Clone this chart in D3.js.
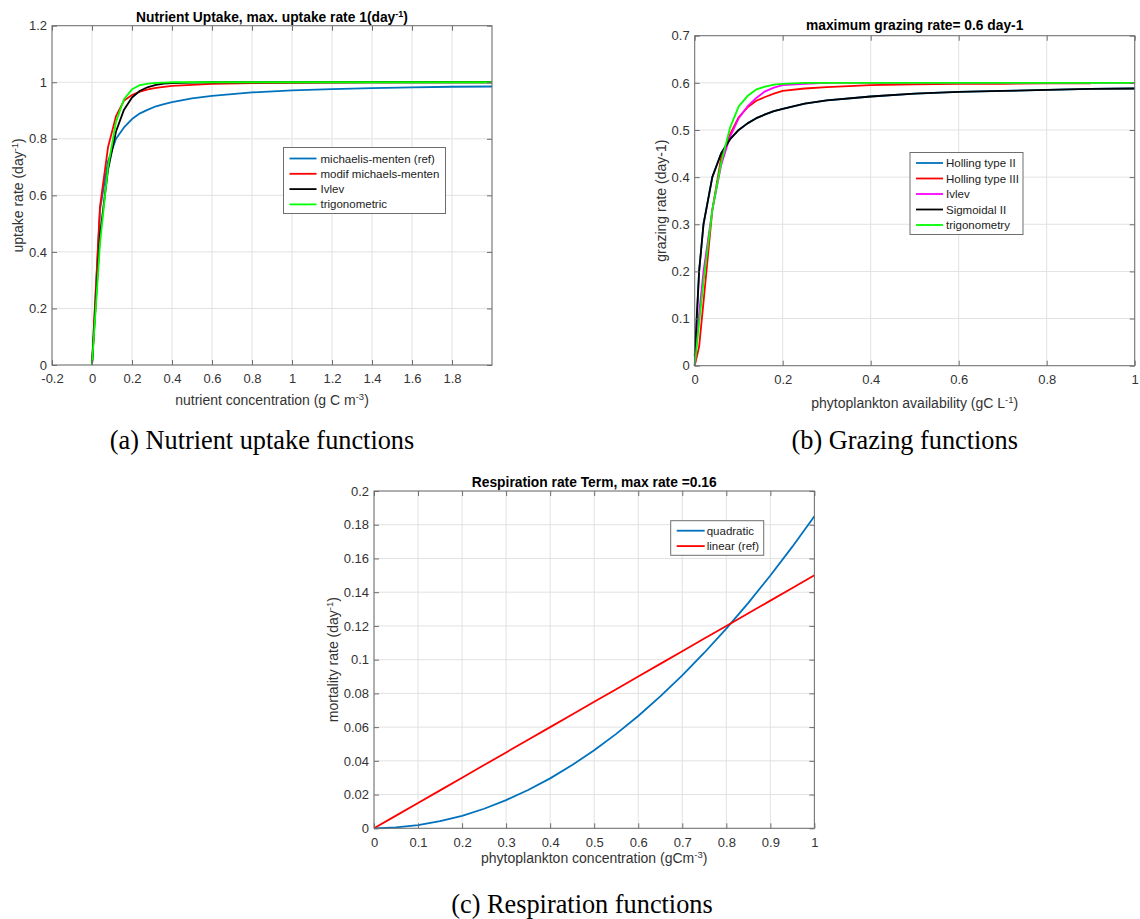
<!DOCTYPE html>
<html>
<head>
<meta charset="utf-8">
<script src="https://cdn.jsdelivr.net/npm/d3@7"></script>
<style>
  html, body { margin: 0; padding: 0; background: #fff; }
  svg { display: block; }
</style>
</head>
<body>
<svg id="chart" width="1140" height="919"></svg>
<script>
// ---------------- DATA ----------------
// (a) Nutrient uptake
const uptakeX = [0, 0.04, 0.08, 0.12, 0.16, 0.20, 0.24, 0.28, 0.32, 0.36, 0.40, 0.50, 0.60, 0.80, 1.00, 1.20, 1.40, 1.60, 1.80, 2.00];
const uptakeMM    = [0, 0.55, 0.72, 0.80, 0.84, 0.87, 0.89, 0.903, 0.915, 0.923, 0.93, 0.943, 0.952, 0.964, 0.971, 0.976, 0.979, 0.982, 0.984, 0.985];
const uptakeModMM = [0, 0.56, 0.77, 0.88, 0.935, 0.955, 0.967, 0.975, 0.98, 0.984, 0.987, 0.991, 0.994, 0.997, 0.998, 0.999, 1, 1, 1, 1];
const uptakeIvlev = [0, 0.46, 0.69, 0.826, 0.903, 0.946, 0.97, 0.983, 0.991, 0.995, 0.997, 0.999, 1, 1, 1, 1, 1, 1, 1, 1];
const uptakeTrig  = [0, 0.43, 0.70, 0.86, 0.94, 0.975, 0.99, 0.995, 0.998, 0.999, 1, 1, 1, 1, 1, 1, 1, 1, 1, 1];
const uptakeNames = ["michaelis-menten (ref)", "modif michaels-menten", "Ivlev", "trigonometric"];
const uptakeXTicks = [-0.2, 0, 0.2, 0.4, 0.6, 0.8, 1, 1.2, 1.4, 1.6, 1.8];
const uptakeYTicks = [0, 0.2, 0.4, 0.6, 0.8, 1, 1.2];

// (b) Grazing
const grazeX = [0, 0.01, 0.02, 0.04, 0.06, 0.08, 0.10, 0.12, 0.14, 0.16, 0.18, 0.20, 0.25, 0.30, 0.40, 0.50, 0.60, 0.70, 0.80, 0.90, 1.00];
const grazeHoll2  = [0, 0.20, 0.30, 0.40, 0.45, 0.48, 0.50, 0.514, 0.525, 0.533, 0.54, 0.545, 0.556, 0.563, 0.571, 0.577, 0.581, 0.583, 0.585, 0.587, 0.588];
const grazeHoll3  = [0, 0.04, 0.135, 0.33, 0.44, 0.49, 0.527, 0.548, 0.562, 0.57, 0.577, 0.583, 0.588, 0.591, 0.595, 0.597, 0.598, 0.598, 0.599, 0.599, null];
const grazeIvlev  = [0, 0.11, 0.20, 0.33, 0.425, 0.485, 0.525, 0.55, 0.568, 0.582, 0.59, 0.595, 0.598, 0.6, 0.6, 0.6, 0.6, 0.6, 0.6, 0.6, 0.6];
const grazeSigm2  = [0.02, 0.20, 0.30, 0.40, 0.45, 0.48, 0.50, 0.514, 0.525, 0.533, 0.54, 0.545, 0.556, 0.563, 0.571, 0.577, 0.581, 0.583, 0.585, 0.587, 0.588];
const grazeTrig   = [0, 0.09, 0.178, 0.33, 0.43, 0.504, 0.55, 0.572, 0.586, 0.592, 0.596, 0.598, 0.6, 0.6, 0.6, 0.6, 0.6, 0.6, 0.6, 0.6, 0.6];
const grazeNames = ["Holling type II", "Holling type III", "Ivlev", "Sigmoidal II", "trigonometry"];
const grazeXTicks = [0, 0.2, 0.4, 0.6, 0.8, 1];
const grazeYTicks = [0, 0.1, 0.2, 0.3, 0.4, 0.5, 0.6, 0.7];

// (c) Respiration
const respX = [0, 0.05, 0.10, 0.15, 0.20, 0.25, 0.30, 0.35, 0.40, 0.45, 0.50, 0.55, 0.60, 0.65, 0.70, 0.75, 0.80, 0.85, 0.90, 0.95, 1.00];
const respQuad   = [0, 0.0005, 0.0019, 0.0042, 0.0074, 0.0116, 0.0167, 0.0227, 0.0296, 0.0375, 0.0463, 0.0560, 0.0666, 0.0782, 0.0907, 0.1041, 0.1184, 0.1337, 0.1499, 0.1670, 0.1850];
const respLinear = [0, 0.0075, 0.015, 0.0225, 0.03, 0.0375, 0.045, 0.0525, 0.06, 0.0675, 0.075, 0.0825, 0.09, 0.0975, 0.105, 0.1125, 0.12, 0.1275, 0.135, 0.1425, 0.15];
const respNames = ["quadratic", "linear (ref)"];
const respXTicks = [0, 0.1, 0.2, 0.3, 0.4, 0.5, 0.6, 0.7, 0.8, 0.9, 1];
const respYTicks = [0, 0.02, 0.04, 0.06, 0.08, 0.1, 0.12, 0.14, 0.16, 0.18, 0.2];

// ---------------- DRAWING ----------------
const C_BLUE = "#0072BD", C_RED = "#FF0000", C_BLACK = "#000000", C_GREEN = "#00FF00", C_MAG = "#FF00FF";
const SANS = "'Liberation Sans', Arial, sans-serif";
const SERIF = "'Liberation Serif', 'Times New Roman', serif";
const svg = d3.select("#chart");
const fmt = d => String(+d.toFixed(4));

function richText(sel, parts, supSize) {
  parts.forEach(([t, sup]) => {
    const ts = sel.append("tspan").text(t);
    if (sup) ts.attr("baseline-shift", "super").style("font-size", supSize + "px");
  });
}

function panel(o) {
  const g = svg.append("g").attr("transform", `translate(${o.left},${o.top})`);
  const x = d3.scaleLinear().domain(o.xDomain).range([0, o.width]);
  const y = d3.scaleLinear().domain(o.yDomain).range([o.height, 0]);

  // grid
  g.append("g").selectAll("line").data(o.xTicks.concat([o.xDomain[1]])).join("line")
    .attr("x1", d => x(d)).attr("x2", d => x(d)).attr("y1", 0).attr("y2", o.height)
    .attr("stroke", "#e2e2e2").attr("stroke-width", 1);
  g.append("g").selectAll("line").data(o.yTicks).join("line")
    .attr("y1", d => y(d)).attr("y2", d => y(d)).attr("x1", 0).attr("x2", o.width)
    .attr("stroke", "#e2e2e2").attr("stroke-width", 1);

  // lines
  const line = d3.line().defined(d => d[1] !== null).x(d => x(d[0])).y(d => y(d[1]));
  o.series.forEach(s => {
    g.append("path").datum(o.xs.map((xv, i) => [xv, s.values[i]]))
      .attr("d", line).attr("fill", "none").attr("stroke", s.color)
      .attr("stroke-width", 1.8).attr("stroke-linejoin", "round");
  });

  // axes (ticks inward)
  const axStyle = a => {
    a.select(".domain").remove();
    a.selectAll(".tick line").attr("stroke", "#6e6e6e");
    a.selectAll(".tick text").attr("fill", "#333")
      .style("font-size", "13px").style("font-family", SANS);
  };
  g.append("g").attr("transform", `translate(0,${o.height})`)
    .call(d3.axisBottom(x).tickValues(o.xTicks).tickFormat(fmt).tickSize(-5).tickPadding(9)).call(axStyle);
  g.append("g")
    .call(d3.axisTop(x).tickValues(o.xTicks).tickFormat("").tickSize(-5)).call(axStyle);
  g.append("g")
    .call(d3.axisLeft(y).tickValues(o.yTicks).tickFormat(fmt).tickSize(-5).tickPadding(5)).call(axStyle);
  g.append("g").attr("transform", `translate(${o.width},0)`)
    .call(d3.axisRight(y).tickValues(o.yTicks).tickFormat("").tickSize(-5)).call(axStyle);

  // box
  g.append("rect").attr("x", 0).attr("y", 0).attr("width", o.width).attr("height", o.height)
    .attr("fill", "none").attr("stroke", "#6e6e6e").attr("stroke-width", 1);

  // title
  const t = g.append("text").attr("x", o.width / 2 + (o.titleDx || 0)).attr("y", o.titleY)
    .attr("text-anchor", "middle").attr("font-weight", "bold")
    .style("font-size", "13.8px").style("font-family", SANS).attr("fill", "#000");
  richText(t, o.title, 9);

  // x label
  const xl = g.append("text").attr("x", o.width / 2).attr("y", o.height + o.xLabelDy)
    .attr("text-anchor", "middle").style("font-size", "14px").style("font-family", SANS).attr("fill", "#333");
  richText(xl, o.xLabel, 9.5);

  // y label
  const yl = g.append("text").attr("transform", `translate(${o.yLabelX},${o.height / 2}) rotate(-90)`)
    .attr("text-anchor", "middle").style("font-size", "14px").style("font-family", SANS).attr("fill", "#333");
  richText(yl, o.yLabel, 9.5);

  // legend
  const L = o.legend;
  const lg = svg.append("g").attr("transform", `translate(${L.x},${L.y})`);
  lg.append("rect").attr("width", L.w).attr("height", L.h).attr("fill", "#fff")
    .attr("stroke", "#6e6e6e").attr("stroke-width", 1);
  o.series.forEach((s, i) => {
    const ry = L.first + i * L.step;
    lg.append("line").attr("x1", L.lineX0).attr("x2", L.lineX1).attr("y1", ry).attr("y2", ry)
      .attr("stroke", s.color).attr("stroke-width", 1.8);
    lg.append("text").attr("x", L.textX).attr("y", ry).attr("dy", "0.35em")
      .style("font-size", "11.5px").style("font-family", SANS).attr("fill", "#222").text(s.name);
  });

  // caption
  if (o.caption) {
    svg.append("text").attr("x", o.caption.x).attr("y", o.caption.y).attr("text-anchor", "middle")
      .style("font-family", SERIF).style("font-size", "26.3px")
      .attr("fill", "#000").text(o.caption.text);
  }
}

panel({
  left: 52, top: 25.7, width: 440, height: 339.3,
  xDomain: [-0.2, 2], yDomain: [0, 1.2], xTicks: uptakeXTicks, yTicks: uptakeYTicks,
  xs: uptakeX,
  series: [
    { name: uptakeNames[0], values: uptakeMM, color: C_BLUE },
    { name: uptakeNames[1], values: uptakeModMM, color: C_RED },
    { name: uptakeNames[2], values: uptakeIvlev, color: C_BLACK },
    { name: uptakeNames[3], values: uptakeTrig, color: C_GREEN }
  ],
  title: [["Nutrient Uptake, max. uptake rate 1(day", false], ["-1", true], [")", false]],
  titleY: -4,
  xLabel: [["nutrient concentration (g C m", false], ["-3", true], [")", false]], xLabelDy: 40,
  yLabel: [["uptake rate (day", false], ["-1", true], [")", false]], yLabelX: -29,
  legend: { x: 283.5, y: 147.5, w: 162, h: 66, first: 11, step: 15.3, lineX0: 6, lineX1: 33, textX: 37 },
  caption: { x: 262, y: 449, text: "(a) Nutrient uptake functions" }
});

panel({
  left: 694.7, top: 35.7, width: 440, height: 330,
  xDomain: [0, 1], yDomain: [0, 0.7], xTicks: grazeXTicks, yTicks: grazeYTicks,
  xs: grazeX,
  series: [
    { name: grazeNames[0], values: grazeHoll2, color: C_BLUE },
    { name: grazeNames[1], values: grazeHoll3, color: C_RED },
    { name: grazeNames[2], values: grazeIvlev, color: C_MAG },
    { name: grazeNames[3], values: grazeSigm2, color: C_BLACK },
    { name: grazeNames[4], values: grazeTrig, color: C_GREEN }
  ],
  title: [["maximum grazing rate= 0.6 day-1", false]],
  titleY: -6, titleDx: 0,
  xLabel: [["phytoplankton availability (gC L", false], ["-1", true], [")", false]], xLabelDy: 42,
  yLabel: [["grazing rate (day-1)", false]], yLabelX: -29,
  legend: { x: 910, y: 152.5, w: 113, h: 82, first: 10.5, step: 15.5, lineX0: 6, lineX1: 33, textX: 36 },
  caption: { x: 904.7, y: 449, text: "(b) Grazing functions" }
});

panel({
  left: 374, top: 491, width: 440.4, height: 337.3,
  xDomain: [0, 1], yDomain: [0, 0.2], xTicks: respXTicks, yTicks: respYTicks,
  xs: respX,
  series: [
    { name: respNames[0], values: respQuad, color: C_BLUE },
    { name: respNames[1], values: respLinear, color: C_RED }
  ],
  title: [["Respiration rate Term, max rate =0.16", false]],
  titleY: -4.5,
  xLabel: [["phytoplankton concentration (gCm", false], ["-3", true], [")", false]], xLabelDy: 35,
  yLabel: [["mortality rate (day", false], ["-1", true], [")", false]], yLabelX: -36,
  legend: { x: 670.7, y: 520.7, w: 93, h: 34.6, first: 10, step: 15.4, lineX0: 6, lineX1: 34, textX: 36 },
  caption: { x: 582, y: 913, text: "(c) Respiration functions" }
});
</script>
</body>
</html>
